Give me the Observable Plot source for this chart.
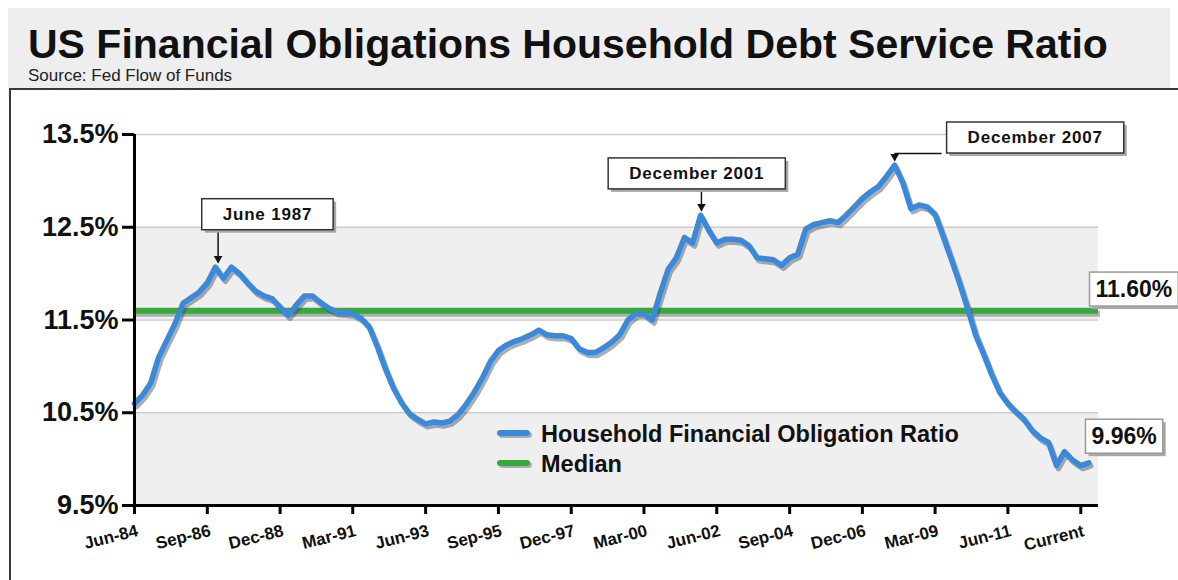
<!DOCTYPE html>
<html>
<head>
<meta charset="utf-8">
<script src="https://cdn.jsdelivr.net/npm/d3@7"></script>
<script src="https://cdn.jsdelivr.net/npm/@observablehq/plot@0.6"></script>
<style>
  html, body { margin: 0; padding: 0; background: #ffffff; width: 1178px; height: 580px; overflow: hidden;
    font-family: "Liberation Sans", Arial, sans-serif; }
  #bg { position: absolute; left: 8px; top: 8px; width: 1162px; height: 90px; background: #eeeeee; }
  #title { position: absolute; left: 28px; top: 24px; font-size: 41px; line-height: 41px; font-weight: bold;
    color: #111; white-space: nowrap; }
  #source { position: absolute; left: 28px; top: 67px; font-size: 17px; line-height: 17px; color: #222; white-space: nowrap; }
  #panel { position: absolute; left: 9px; top: 88px; width: 1200px; height: 520px; background: #ffffff;
    border-left: 2px solid #3a3a3a; border-top: 2px solid #3a3a3a; }
  #chart { position: absolute; left: 0; top: 89px; }
</style>
</head>
<body>
<div id="bg"></div>
<div id="title">US Financial Obligations Household Debt Service Ratio</div>
<div id="source">Source: Fed Flow of Funds</div>
<div id="panel"></div>
<div id="chart"></div>
<script>
// Quarterly household debt service ratio (%), Jun-84 through Dec-13
const ratioValues = [
  10.60, 10.69, 10.82, 11.10, 11.28, 11.46, 11.68, 11.74, 11.80, 11.90,
  12.07, 11.95, 12.07, 12.00, 11.90, 11.81, 11.76, 11.73, 11.64, 11.55,
  11.66, 11.76, 11.76, 11.69, 11.63, 11.59, 11.58, 11.57, 11.52, 11.43,
  11.22, 10.98, 10.77, 10.61, 10.49, 10.43, 10.38, 10.40, 10.39, 10.41,
  10.48, 10.59, 10.72, 10.87, 11.05, 11.17, 11.23, 11.27, 11.30, 11.34,
  11.39, 11.34, 11.33, 11.33, 11.30, 11.19, 11.15, 11.15, 11.20, 11.26,
  11.34, 11.50, 11.57, 11.57, 11.50, 11.79, 12.05, 12.17, 12.39, 12.33,
  12.63, 12.47, 12.33, 12.37, 12.37, 12.36, 12.30, 12.17, 12.16, 12.15,
  12.09, 12.17, 12.21, 12.48, 12.53, 12.55, 12.57, 12.55, 12.63, 12.72,
  12.81, 12.88, 12.94, 13.05, 13.17, 12.98, 12.70, 12.74, 12.72, 12.64,
  12.40, 12.15, 11.90, 11.63, 11.34, 11.13, 10.91, 10.72, 10.60, 10.51,
  10.43, 10.31, 10.23, 10.18, 9.93, 10.08, 9.99, 9.93, 9.96
];
const firstQuarter = { year: 1984, month: 5 }; // June 1984
const medianValue = 11.60;
const latestValue = 9.96;

const xTickDates = ["1984-06-01","1986-09-01","1988-12-01","1991-03-01","1993-06-01","1995-09-01","1997-12-01",
                    "2000-03-01","2002-06-01","2004-09-01","2006-12-01","2009-03-01","2011-06-01","2013-09-01"];
const xTickLabels = ["Jun-84","Sep-86","Dec-88","Mar-91","Jun-93","Sep-95","Dec-97",
                     "Mar-00","Jun-02","Sep-04","Dec-06","Mar-09","Jun-11","Current"];
const yTicks = [9.5, 10.5, 11.5, 12.5, 13.5];
const bandRanges = [ { lo: 11.5, hi: 12.5 }, { lo: 9.5, hi: 10.5 } ];

const annotationLabels = ["June 1987", "December 2001", "December 2007"];
const annotationTips = [ ["1987-01-01", 12.12], ["2001-12-10", 12.68], ["2007-12-01", 13.22] ];
const annotationElbows = [ ["1987-01-01", 12.47], ["2001-12-10", 12.92], ["2007-12-01", 13.295] ];
const annotationEnds = [ ["1987-01-01", 12.47], ["2001-12-10", 12.92], ["2009-05-13", 13.295] ];
const annotationBoxCenters = [ ["1988-07-11", 12.64], ["2001-10-18", 13.08], ["2012-04-04", 13.467] ];

const legendLabels = ["Household Financial Obligation Ratio", "Median"];

// ---- build tables ----
const series = ratioValues.map((v, i) => ({
  date: new Date(Date.UTC(firstQuarter.year, firstQuarter.month + 3 * i, 1)),
  value: v
}));
const xTicks = xTickDates.map((d, i) => ({ date: new Date(d), label: xTickLabels[i] }));
const annotations = annotationLabels.map((label, i) => ({
  label,
  tipDate: new Date(annotationTips[i][0]), tipValue: annotationTips[i][1],
  elbowDate: new Date(annotationElbows[i][0]), elbowValue: annotationElbows[i][1],
  endDate: new Date(annotationEnds[i][0]), endValue: annotationEnds[i][1],
  boxDate: new Date(annotationBoxCenters[i][0]), boxValue: annotationBoxCenters[i][1]
}));

const xDomain = [new Date("1984-06-01"), new Date("2014-03-20")];
const BLUE = "#3a89db", GREEN = "#36a83c", SHADOW = "#4a4a4a";
const FONT = "'Liberation Sans', Arial, Helvetica, sans-serif";

const fig = Plot.plot({
  width: 1178,
  height: 491,
  marginLeft: 134,
  marginRight: 80,
  marginTop: 45,
  marginBottom: 75,
  style: { fontFamily: FONT, background: "transparent", overflow: "visible", color: "#111" },
  x: { type: "utc", domain: xDomain },
  y: { domain: [9.5, 13.5] },
  marks: [
    Plot.rect(bandRanges, { x1: () => xDomain[0], x2: () => xDomain[1], y1: "lo", y2: "hi", fill: "#efefef" }),
    Plot.ruleY(yTicks, { stroke: "#cdcdcd", strokeWidth: 1.5 }),
    // median line with shadow
    Plot.ruleY([medianValue], { stroke: SHADOW, strokeOpacity: 0.4, strokeWidth: 6, dx: 2, dy: 3 }),
    Plot.ruleY([medianValue], { stroke: GREEN, strokeWidth: 6 }),
    // ratio line with shadow
    Plot.line(series, { x: "date", y: "value", stroke: SHADOW, strokeOpacity: 0.45, strokeWidth: 5.5, dx: 2, dy: 3,
      strokeLinejoin: "round", strokeLinecap: "round" }),
    Plot.line(series, { x: "date", y: "value", stroke: BLUE, strokeWidth: 5.5,
      strokeLinejoin: "round", strokeLinecap: "round" }),
    // axes
    Plot.ruleX([xDomain[0]], { stroke: "#000", strokeWidth: 3 }),
    Plot.ruleY([9.5], { stroke: "#000", strokeWidth: 3 }),
    Plot.axisY(yTicks, { tickSize: 12, tickPadding: 4, strokeWidth: 3, stroke: "#000", fontSize: 27, fontWeight: "bold",
      fill: "#111", tickFormat: d => d.toFixed(1) + "%", label: null }),
    Plot.axisX(xTicks.map(d => d.date), { tickSize: 9, strokeWidth: 3, stroke: "#000", tickFormat: () => "", label: null }),
    Plot.text(xTicks, { x: "date", frameAnchor: "bottom", text: "label", rotate: -14, textAnchor: "end",
      lineAnchor: "middle", dx: 3, dy: 25, fontSize: 17, fontWeight: "bold", fill: "#111" }),
    // annotations
    Plot.link(annotations, { x1: "tipDate", y1: "tipValue", x2: "elbowDate", y2: "elbowValue", stroke: "#111", strokeWidth: 1.5 }),
    Plot.link(annotations, { x1: "elbowDate", y1: "elbowValue", x2: "endDate", y2: "endValue", stroke: "#111", strokeWidth: 1.5 }),
    Plot.dot(annotations, { x: "tipDate", y: "tipValue", symbol: "triangle", r: 3.2, rotate: 180, fill: "#111", dy: -4 }),
    Plot.text(annotations, { x: "boxDate", y: "boxValue", text: "label", fontSize: 17, fontWeight: "bold", fill: "#111",
      lineAnchor: "middle" }),
    // value labels at the right
    Plot.text([medianValue], { x: () => xDomain[1], y: d => d, text: d => d.toFixed(2) + "%", textAnchor: "start",
      lineAnchor: "middle", dx: -3, dy: -21, fontSize: 23, fontWeight: "bold", fill: "#111" }),
    Plot.text([latestValue], { x: () => xDomain[1], y: d => d, text: d => d.toFixed(2) + "%", textAnchor: "start",
      lineAnchor: "middle", dx: -7, dy: -26, fontSize: 23, fontWeight: "bold", fill: "#111" })
  ]
});
document.getElementById("chart").append(fig);

// ---- boxes behind annotation / value texts ----
const NS = "http://www.w3.org/2000/svg";
function boxText(el, padX, padY, strokeColor) {
  const bb = el.getBBox();
  const tr = el.getAttribute("transform");
  const parent = el.parentNode;
  const mk = (off, fill, stroke) => {
    const r = document.createElementNS(NS, "rect");
    r.setAttribute("x", bb.x - padX + off);
    r.setAttribute("y", bb.y - padY + off);
    r.setAttribute("width", bb.width + 2 * padX);
    r.setAttribute("height", bb.height + 2 * padY);
    r.setAttribute("fill", fill);
    r.setAttribute("stroke", stroke);
    r.setAttribute("stroke-width", 1.5);
    if (tr) r.setAttribute("transform", tr);
    parent.insertBefore(r, el);
  };
  mk(3, "#a8a8a8", "none");
  mk(0, "#ffffff", strokeColor);
}
const annSet = new Set(annotationLabels);
const valSet = new Set([medianValue.toFixed(2) + "%", latestValue.toFixed(2) + "%"]);
d3.select(fig).selectAll("text").each(function () {
  const t = this.textContent;
  if (annSet.has(t)) { this.style.letterSpacing = "0.8px"; boxText(this, 21, 6, "#333"); }
  else if (valSet.has(t)) boxText(this, 6, 4, "#999");
});

// ---- legend inside the plot ----
const svg = d3.select(fig);
const lg = svg.append("g").attr("font-family", FONT).attr("text-anchor", "start");
const legendColors = [BLUE, GREEN];
legendLabels.forEach((label, i) => {
  const y = 344 + i * 30;
  lg.append("line").attr("x1", 500).attr("x2", 527).attr("y1", y).attr("y2", y)
    .attr("stroke", SHADOW).attr("stroke-opacity", 0.4).attr("stroke-width", 6).attr("stroke-linecap", "round")
    .attr("transform", "translate(2,2)");
  lg.append("line").attr("x1", 500).attr("x2", 527).attr("y1", y).attr("y2", y)
    .attr("stroke", legendColors[i]).attr("stroke-width", 6).attr("stroke-linecap", "round");
  lg.append("text").attr("x", 541).attr("y", y + 9).attr("font-size", 23.5).attr("font-weight", "bold")
    .attr("text-anchor", "start").attr("fill", "#111").text(label);
});
</script>
</body>
</html>
